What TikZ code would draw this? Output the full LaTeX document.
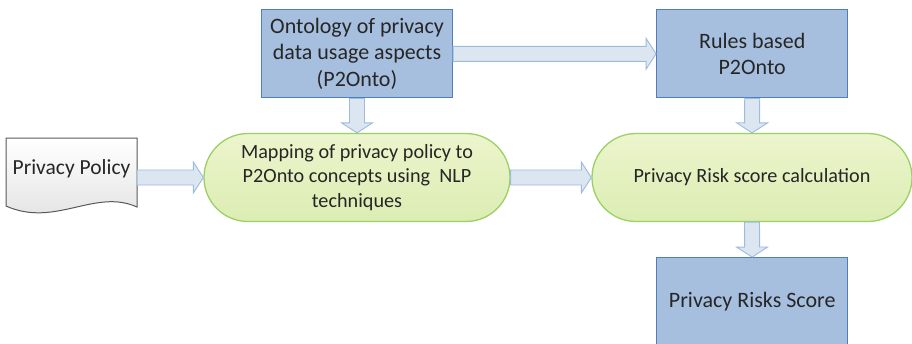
\documentclass[tikz,border=0pt]{standalone}
\usepackage{fontspec}
\setmainfont{Carlito}
\usetikzlibrary{calc}
\definecolor{boxfill}{HTML}{A7BFDE}
\definecolor{boxline}{HTML}{4F7FBA}
\definecolor{arrfill}{HTML}{DCE6F1}
\definecolor{arrline}{HTML}{9DBBDF}
\definecolor{stadtop}{HTML}{ECF5CC}
\definecolor{stadbot}{HTML}{DCEDB3}
\definecolor{stadline}{HTML}{9BD065}
\definecolor{docline}{HTML}{595959}
\begin{document}
\begin{tikzpicture}[x=1pt,y=-1pt,
  bluebox/.style={draw=boxline, line width=1.3pt, fill=boxfill, minimum width=191pt,
    minimum height=88pt, align=center, inner sep=0pt,
    font=\fontsize{22}{26.5}\selectfont, text=black!85},
  stadium/.style={draw=stadline, line width=1.3pt, top color=stadtop, bottom color=stadbot,
    rounded corners=44pt, minimum height=88pt, align=center, inner sep=0pt,
    font=\fontsize{20.2}{24.5}\selectfont, text=black!85},
  blockarrow/.style={draw=arrline, fill=arrfill, line width=0.9pt, line join=miter,
    to path={let \p1=(\tikztostart), \p2=(\tikztotarget),
      \n1={atan2(\y2-\y1,\x2-\x1)}, \n2={veclen(\x2-\x1,\y2-\y1)-10pt} in
      ($(\p1)+(\n1+90:7.5pt)$)
      -- ($(\p1)+(\n1:\n2)+(\n1+90:7.5pt)$)
      -- ($(\p1)+(\n1:\n2)+(\n1+90:15.5pt)$)
      -- (\p2)
      -- ($(\p1)+(\n1:\n2)+(\n1-90:15.5pt)$)
      -- ($(\p1)+(\n1:\n2)+(\n1-90:7.5pt)$)
      -- ($(\p1)+(\n1-90:7.5pt)$) -- cycle}}]
\clip (0,0) rectangle (912,343);

% document shape
\path[draw=docline, line width=1pt, top color=white, bottom color=black!12]
  (6,138) -- (137,138) -- (137,207) .. controls (95,188) and (55,228) .. (6,206) -- cycle;
\node[minimum width=131pt, inner sep=0pt, font=\fontsize{21.5}{26}\selectfont, text=black!85]
  (policy) at (71.5,169) {Privacy Policy};

\node[bluebox] (onto) at (357,53.8) {Ontology of privacy\\data usage aspects\\(P2Onto)};
\node[bluebox] (rules) at (752.2,53.8) {Rules based\\P2Onto};
\node[bluebox] (score) at (752.2,301.7) {Privacy Risks Score};

\node[stadium, minimum width=306pt] (mapping) at (357,177.5)
  {Mapping of privacy policy to\\P2Onto concepts using\ \ NLP\\techniques};
\node[stadium, minimum width=320pt] (risk) at (752,177.5) {Privacy Risk score calculation};

\draw[blockarrow] (policy.east |- mapping.west) to (mapping.west);
\draw[blockarrow] (onto.south) to (mapping.north);
\draw[blockarrow] (onto.east) to (rules.west);
\draw[blockarrow] (mapping.east) to (risk.west);
\draw[blockarrow] (rules.south) to (risk.north);
\draw[blockarrow] (risk.south) to (score.north);
\end{tikzpicture}
\end{document}
